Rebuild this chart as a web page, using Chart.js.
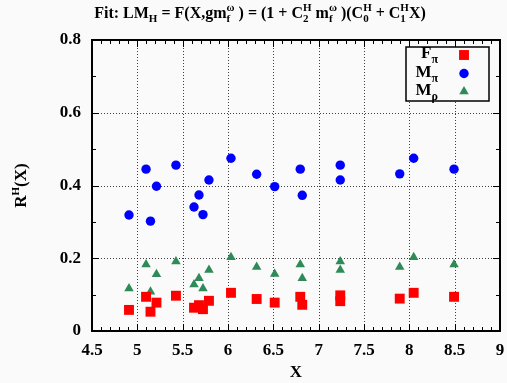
<!DOCTYPE html>
<html><head><meta charset="utf-8">
<script src="https://cdn.jsdelivr.net/npm/chart.js@4"></script>
<style>html,body{margin:0;padding:0;background:#fafafa;} canvas{display:block;}</style>
</head><body>
<canvas id="c" width="507" height="383"></canvas>
<script>
// ---- data ----
const xValues = [4.908, 5.096, 5.145, 5.211, 5.426, 5.625, 5.680, 5.724, 5.790, 6.033,
                 6.316, 6.515, 6.797, 6.819, 7.238, 7.238, 7.894, 8.048, 8.493];
const fPi  = [0.058, 0.094, 0.053, 0.078, 0.097, 0.064, 0.071, 0.060, 0.083, 0.105,
              0.088, 0.078, 0.094, 0.072, 0.098, 0.082, 0.089, 0.105, 0.094];
const mPi  = [0.319, 0.445, 0.302, 0.398, 0.456, 0.341, 0.374, 0.320, 0.415, 0.475,
              0.431, 0.397, 0.445, 0.373, 0.456, 0.415, 0.432, 0.475, 0.445];
const mRho = [0.117, 0.183, 0.108, 0.156, 0.191, 0.128, 0.145, 0.117, 0.168, 0.203,
              0.176, 0.157, 0.183, 0.145, 0.191, 0.168, 0.176, 0.203, 0.183];
const xTicks = {min: 4.5, max: 9, step: 0.5, minor: 0.1};
const yTicks = {min: 0, max: 0.8, step: 0.2, minor: 0.1};
const seriesNames = [{main: 'F', sub: 'π'}, {main: 'M', sub: 'π'}, {main: 'M', sub: 'ρ'}];

const FONT = '"Liberation Serif","Times New Roman",serif';
const fnt = s => 'bold ' + s + 'px ' + FONT;
const BG = '#fafafa';

function pts(ys){ return ys.map((y,i)=>({x:xValues[i], y:y})); }
const fmt = v => String(Number(Number(v).toFixed(3)));

function richWidth(ctx, segs, base, small){
  let w=0;
  for(const s of segs){
    if(s.t!==undefined){ctx.font=fnt(base); w+=ctx.measureText(s.t).width;}
    else {ctx.font=fnt(small); w+=Math.max(s.sup?ctx.measureText(s.sup).width:0, s.sub?ctx.measureText(s.sub).width:0);}
  }
  return w;
}
function drawRich(ctx, segs, x, y, base, small, supDy, subDy){
  ctx.textAlign='left'; ctx.textBaseline='alphabetic'; ctx.fillStyle='#000';
  for(const s of segs){
    if(s.t!==undefined){ctx.font=fnt(base); ctx.fillText(s.t,x,y); x+=ctx.measureText(s.t).width;}
    else {
      ctx.font=fnt(small); let w=0;
      if(s.sup){ctx.fillText(s.sup,x,y-supDy); w=Math.max(w,ctx.measureText(s.sup).width);}
      if(s.sub){ctx.fillText(s.sub,x,y+subDy); w=Math.max(w,ctx.measureText(s.sub).width);}
      x+=w;
    }
  }
}

const titleSegs = [
  {t:'Fit: LM'},{sub:'H'},{t:' = F(X,gm'},{sup:'ω',sub:'f'},{t:' ) = (1 + C'},{sup:'H',sub:'2'},
  {t:' m'},{sup:'ω',sub:'f'},{t:' )(C'},{sup:'H',sub:'0'},{t:' + C'},{sup:'H',sub:'1'},{t:'X)'}
];
const yTitleSegs = [{t:'R'},{sup:'H'},{t:'(X)'}];

const decor = {
  id:'decor',
  beforeDraw(chart){
    const ctx=chart.ctx; ctx.save(); ctx.fillStyle=BG; ctx.fillRect(0,0,chart.width,chart.height); ctx.restore();
  },
  beforeDatasetsDraw(chart){
    const ctx=chart.ctx, a=chart.chartArea, xs=chart.scales.x, ys=chart.scales.y;
    ctx.save();
    ctx.strokeStyle='rgba(0,0,0,0.75)'; ctx.lineWidth=1; ctx.setLineDash([1,2]);
    for(let v=xTicks.min+xTicks.step; v<xTicks.max-1e-9; v+=xTicks.step){
      const px=Math.round(xs.getPixelForValue(v))+0.5;
      ctx.beginPath(); ctx.moveTo(px,a.bottom); ctx.lineTo(px,a.top); ctx.stroke();
    }
    for(let v=yTicks.min+yTicks.step; v<yTicks.max-1e-9; v+=yTicks.step){
      const py=Math.round(ys.getPixelForValue(v))+0.5;
      ctx.beginPath(); ctx.moveTo(a.left,py); ctx.lineTo(a.right,py); ctx.stroke();
    }
    ctx.restore();
  },
  afterDatasetsDraw(chart){
    const ctx=chart.ctx, a=chart.chartArea, xs=chart.scales.x, ys=chart.scales.y;
    ctx.save();
    ctx.strokeStyle='#000'; ctx.setLineDash([]);
    ctx.lineWidth=1;
    const nx=Math.round((xTicks.max-xTicks.min)/xTicks.minor);
    for(let i=0;i<=nx;i++){
      const v=xTicks.min+i*xTicks.minor;
      const major=i%5===0;
      const L=major?7:4, px=Math.round(xs.getPixelForValue(v))+0.5;
      ctx.beginPath(); ctx.moveTo(px,a.bottom); ctx.lineTo(px,a.bottom-L);
      ctx.moveTo(px,a.top); ctx.lineTo(px,a.top+L); ctx.stroke();
    }
    const ny=Math.round((yTicks.max-yTicks.min)/yTicks.minor);
    for(let i=0;i<=ny;i++){
      const v=yTicks.min+i*yTicks.minor;
      const major=i%2===0;
      const L=major?7:4, py=Math.round(ys.getPixelForValue(v))+0.5;
      ctx.beginPath(); ctx.moveTo(a.left,py); ctx.lineTo(a.left+L,py);
      ctx.moveTo(a.right,py); ctx.lineTo(a.right-L,py); ctx.stroke();
    }
    ctx.lineWidth=2;
    ctx.strokeRect(a.left,a.top,a.right-a.left,a.bottom-a.top);
    // legend
    const bx=406, by=47, bw=83, bh=54;
    ctx.fillStyle=BG; ctx.fillRect(bx,by,bw,bh);
    ctx.lineWidth=1.5; ctx.strokeStyle='#000'; ctx.strokeRect(bx,by,bw,bh);
    const rowsY=[55,73.5,91.5];
    chart.data.datasets.forEach((ds,i)=>{
      const nm=seriesNames[i];
      const segs=[{t:nm.main},{sub:nm.sub}];
      const w=richWidth(ctx,segs,17,12);
      drawRich(ctx,segs,438-w,rowsY[i]+3,17,12,7,5);
      ctx.fillStyle=ds.backgroundColor; ctx.strokeStyle=ds.backgroundColor;
      Chart.helpers.drawPoint(ctx,{pointStyle:ds.pointStyle,radius:ds.pointRadius,borderWidth:0,rotation:0},464,rowsY[i]);
    });
    // title
    const tw=richWidth(ctx,titleSegs,16,11);
    drawRich(ctx,titleSegs,260-tw/2,18,16,11,7,4);
    // x title
    ctx.font=fnt(17); ctx.textAlign='center'; ctx.textBaseline='alphabetic'; ctx.fillStyle='#000';
    ctx.fillText('X',(a.left+a.right)/2,377);
    // y title
    ctx.save(); ctx.translate(26,(a.top+a.bottom)/2); ctx.rotate(-Math.PI/2);
    const yw=richWidth(ctx,yTitleSegs,17,11);
    drawRich(ctx,yTitleSegs,-yw/2,0,17,11,7,4);
    ctx.restore();
    ctx.restore();
  }
};

new Chart(document.getElementById('c'), {
  type:'scatter',
  data:{datasets:[
    {label:'Fπ', data:pts(fPi), pointStyle:'rect', pointRadius:7, backgroundColor:'#ff0000', borderColor:'#ff0000', borderWidth:0},
    {label:'Mπ', data:pts(mPi), pointStyle:'circle', pointRadius:4.7, backgroundColor:'#0000ff', borderColor:'#0000ff', borderWidth:0},
    {label:'Mρ', data:pts(mRho), pointStyle:'triangle', pointRadius:5.5, backgroundColor:'#2e8b57', borderColor:'#2e8b57', borderWidth:0}
  ]},
  options:{
    responsive:false, animation:false, devicePixelRatio:1, events:[],
    layout:{padding:{top:40,right:7,left:0,bottom:0}},
    plugins:{legend:{display:false}, tooltip:{enabled:false}, title:{display:false}},
    scales:{
      x:{type:'linear', min:xTicks.min, max:xTicks.max,
         ticks:{stepSize:xTicks.step, padding:9, color:'#000', font:{family:FONT,size:17,weight:'bold'}, maxRotation:0, autoSkip:false, callback:fmt},
         grid:{display:false, drawTicks:false}, border:{display:false},
         afterFit(s){ s.height=52; s.paddingLeft=0; s.paddingRight=0; }},
      y:{type:'linear', min:yTicks.min, max:yTicks.max,
         ticks:{stepSize:yTicks.step, padding:11, color:'#000', font:{family:FONT,size:17,weight:'bold'}, callback:fmt},
         grid:{display:false, drawTicks:false}, border:{display:false},
         afterFit(s){ s.width=92; s.paddingTop=0; s.paddingBottom=0; }}
    }
  },
  plugins:[decor]
});
</script>
</body></html>
